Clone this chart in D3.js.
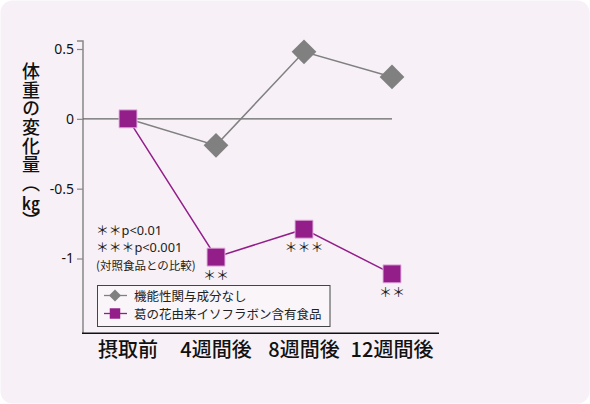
<!DOCTYPE html>
<html>
<head>
<meta charset="utf-8">
<script src="https://cdn.jsdelivr.net/npm/d3@7"></script>
<style>
  html, body { margin: 0; padding: 0; background: #fff; }
  #chart { position: relative; width: 590px; height: 404px; }
  svg { display: block; font-family: "Noto Sans CJK JP", "Noto Sans", sans-serif; }
  .ytitle {
    position: absolute; left: 20px; top: 62px;
    writing-mode: vertical-rl; text-orientation: mixed;
    font-family: "Noto Sans CJK JP", sans-serif;
    font-size: 18px; line-height: 22px; letter-spacing: 0.7px;
    font-weight: 500; color: #111; white-space: nowrap;
  }
  .ytitle .unit { text-combine-upright: all; }
</style>
</head>
<body>
<div id="chart"></div>
<script>
const categories = ["摂取前", "4週間後", "8週間後", "12週間後"];
const controlValues = [0, -0.19, 0.48, 0.30];
const isoflavoneValues = [0, -0.99, -0.79, -1.11];
const seriesNames = ["機能性関与成分なし", "葛の花由来イソフラボン含有食品"];
const yTicks = [0.5, 0, -0.5, -1];
const starLabels = ["", "＊＊", "＊＊＊", "＊＊"];
const noteLines = ["＊＊p<0.01", "＊＊＊p<0.001", "(対照食品との比較)"];
const yTitle = "体重の変化量";
const yUnit = "kg";

const width = 590, height = 404;
const purple = "#931e8a", grey = "#808080";

const chart = d3.select("#chart");
const svg = chart.append("svg")
  .attr("width", width).attr("height", height);

// panel background
svg.append("rect")
  .attr("x", 0.5).attr("y", 0.5)
  .attr("width", width - 1).attr("height", height - 1)
  .attr("rx", 12).attr("ry", 12)
  .attr("fill", "#f7f1f7");

const x = d3.scalePoint().domain(categories).range([128, 392]);
const y = d3.scaleLinear().domain([-1, 0.5]).range([258.5, 49]);
const yTop = y(0.557), yBottom = y(-1.535);

// y axis
const yAxis = svg.append("g")
  .attr("transform", "translate(83,0)")
  .call(d3.axisLeft(y).tickValues(yTicks).tickFormat(d => d).tickSize(6).tickPadding(3));
yAxis.select(".domain").remove();
yAxis.selectAll(".tick line").attr("stroke", "#888").attr("stroke-width", 1.2);
yAxis.selectAll(".tick text")
  .attr("fill", "#111")
  .style("font-size", "14px")
  .style("font-family", "'Noto Sans', 'Noto Sans CJK JP', sans-serif");
svg.append("path")
  .attr("d", `M77,${yTop}H83V${yBottom}`)
  .attr("fill", "none").attr("stroke", "#888").attr("stroke-width", 1.5);

// zero line
svg.append("line")
  .attr("x1", 83).attr("x2", x(categories[3]))
  .attr("y1", y(0)).attr("y2", y(0))
  .attr("stroke", "#666").attr("stroke-width", 1.2);

// bottom line
svg.append("line")
  .attr("x1", 82).attr("x2", 439)
  .attr("y1", yBottom).attr("y2", yBottom)
  .attr("stroke", "#111").attr("stroke-width", 1.5);

// x labels
svg.append("g").selectAll("text").data(categories).join("text")
  .attr("x", d => x(d)).attr("y", 357)
  .attr("text-anchor", "middle")
  .attr("fill", "#111")
  .style("font-size", "20px")
  .style("font-weight", 500)
  .text(d => d);

// y title in vertical writing
const title = chart.append("div").attr("class", "ytitle");
title.append("span").text(yTitle + "（");
title.append("span").attr("class", "unit").text(yUnit);
title.append("span").text("）");

const line = d3.line().x((d, i) => x(categories[i])).y(d => y(d));

// control series
svg.append("path").datum(controlValues)
  .attr("fill", "none").attr("stroke", grey).attr("stroke-width", 1.5)
  .attr("d", line);
svg.append("g").selectAll("path")
  .data(controlValues.map((v, i) => ({ v, i })).filter(d => d.v !== isoflavoneValues[d.i]))
  .join("path")
  .attr("transform", d => `translate(${x(categories[d.i])},${y(d.v)}) rotate(45)`)
  .attr("d", d3.symbol(d3.symbolSquare, 17.5 * 17.5))
  .attr("fill", grey);

// isoflavone series
svg.append("path").datum(isoflavoneValues)
  .attr("fill", "none").attr("stroke", purple).attr("stroke-width", 1.5)
  .attr("d", line);
svg.append("g").selectAll("path").data(isoflavoneValues).join("path")
  .attr("transform", (d, i) => `translate(${x(categories[i])},${y(d)})`)
  .attr("d", d3.symbol(d3.symbolSquare, 18 * 18))
  .attr("fill", purple)
  .attr("stroke", "#e4b4e0").attr("stroke-width", 1);

// significance stars under purple markers
svg.append("g").selectAll("text").data(starLabels).join("text")
  .attr("x", (d, i) => x(categories[i]))
  .attr("y", (d, i) => y(isoflavoneValues[i]) + 17.5)
  .attr("text-anchor", "middle")
  .attr("dominant-baseline", "central")
  .attr("fill", "#222")
  .style("font-size", "13px")
  .text(d => d);

// notes
svg.append("g").selectAll("text").data(noteLines).join("text")
  .attr("x", 96)
  .attr("y", (d, i) => 229.5 + i * 17.5)
  .attr("dominant-baseline", "central")
  .attr("fill", "#222")
  .style("font-family", (d, i) => i === 2 ? null : "'Noto Sans', 'Noto Sans CJK JP', sans-serif")
  .style("font-size", (d, i) => i === 2 ? "11.5px" : "12.8px")
  .text(d => d);

// legend
const legend = svg.append("g");
legend.append("rect")
  .attr("x", 97.5).attr("y", 285.5).attr("width", 232.5).attr("height", 41)
  .attr("fill", "#f9f5f9").attr("stroke", "#444").attr("stroke-width", 1);
const legendColors = [grey, purple];
const rows = legend.selectAll("g").data(seriesNames).join("g")
  .attr("transform", (d, i) => `translate(115,${295.5 + i * 18})`);
rows.append("line")
  .attr("x1", -11).attr("x2", 12)
  .attr("stroke", (d, i) => legendColors[i]).attr("stroke-width", 1.3);
rows.append("path")
  .attr("transform", (d, i) => i === 0 ? "rotate(45)" : null)
  .attr("d", (d, i) => d3.symbol(d3.symbolSquare, i === 0 ? 72 : 110)())
  .attr("fill", (d, i) => legendColors[i]);
rows.append("text")
  .attr("x", 19)
  .attr("dominant-baseline", "central")
  .attr("fill", "#222")
  .style("font-size", "12.5px")
  .text(d => d);
</script>
</body>
</html>
